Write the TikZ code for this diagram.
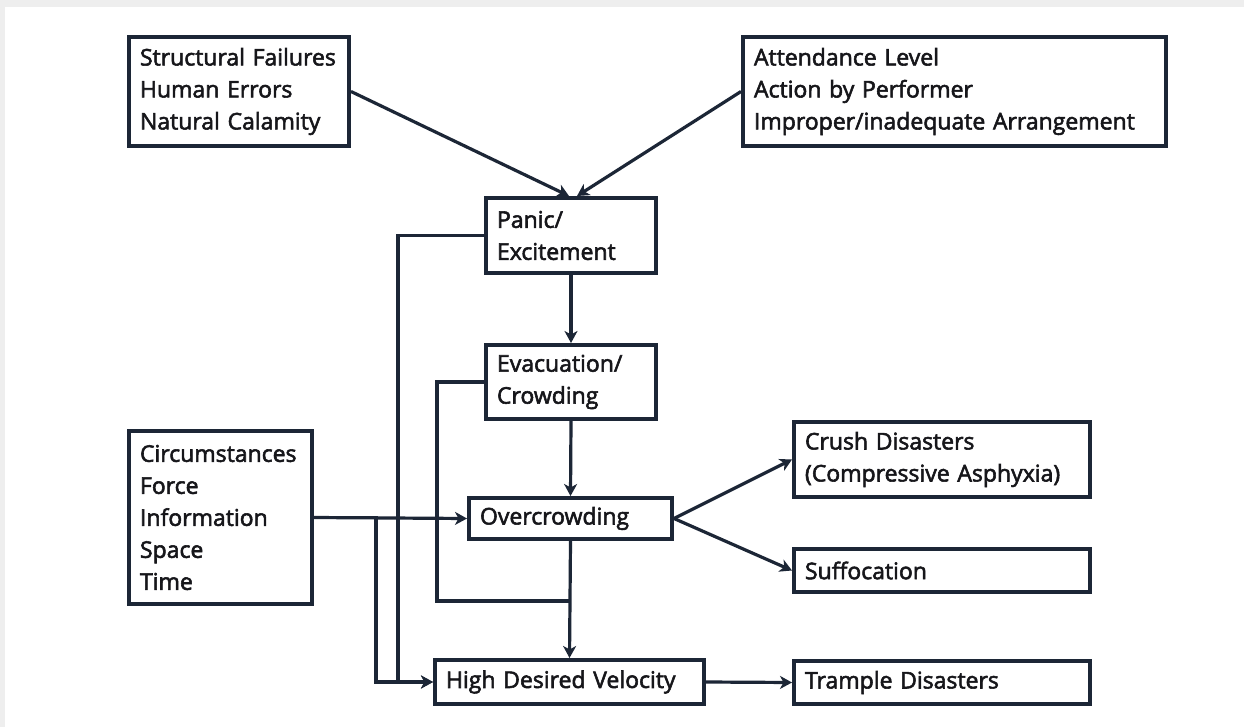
\documentclass[tikz,border=0pt]{standalone}
\usepackage{fontspec}
\newfontfamily\boxfont{Open Sans}[FakeBold=2.4]
\usetikzlibrary{arrows.meta,calc}
\definecolor{ink}{RGB}{28,38,54}
\definecolor{txt}{RGB}{22,22,26}
\definecolor{frame}{RGB}{238,238,238}
\begin{document}
\begin{tikzpicture}[x=1pt,y=-1pt,
  box/.style={draw=ink, line width=4pt, fill=white, anchor=north west,
    inner xsep=11pt, inner ysep=0pt, align=left, text=txt,
    font=\boxfont\fontsize{23}{32}\selectfont},
  link/.style={draw=ink, line width=3.2pt},
  arr/.style={link, -{Stealth[length=12pt,width=13pt,inset=3.5pt]}}]
% page: light grey edge and white sheet
\fill[frame] (0,0) rectangle (1244,727);
\fill[white] (5,7) rectangle (1244,727);
\useasboundingbox (0,0) rectangle (1244,727);
% boxes (corner, width, height)
\newcommand\mkbox[6]{\node[box, minimum width=#4, minimum height=#5, text width=#4-22pt] (#1) at (#2,#3) {#6};}
\mkbox{causeA}{127}{35}{220pt}{109pt}{Structural Failures\\Human Errors\\Natural Calamity}
\mkbox{causeB}{741}{35}{423pt}{109pt}{Attendance Level\\Action by Performer\\Improper/inadequate Arrangement}
\mkbox{panic}{484}{196}{170pt}{75pt}{Panic/\\Excitement}
\mkbox{evac}{484}{343}{170pt}{74pt}{Evacuation/\\Crowding}
\mkbox{over}{467}{496}{203pt}{41pt}{Overcrowding}
\mkbox{hdv}{433}{658}{269pt}{44pt}{High Desired Velocity}
\mkbox{circ}{127}{429}{183pt}{173pt}{Circumstances\\Force\\Information\\Space\\Time}
\mkbox{crush}{792}{420}{296pt}{75pt}{Crush Disasters\\(Compressive Asphyxia)}
\mkbox{suff}{792}{547}{296pt}{43pt}{Suffocation}
\mkbox{trample}{792}{659}{296pt}{43pt}{Trample Disasters}
% connectors
\draw[arr] (causeA.east) -- ([xshift=-2pt]panic.north);
\draw[arr] (causeB.west) -- ([xshift=6pt]panic.north);
\draw[arr] (panic.south) -- (evac.north);
\draw[arr] (evac.south) -- (over.north);
\draw[arr] (over.east) -- (crush.west);
\draw[arr] (over.east) -- (suff.west);
\draw[arr] (hdv.east) -- (trample.west);
\draw[arr] (over.south) -- (hdv.north);
\draw[arr] (circ.east) -- (over.west);
\draw[arr] (circ.east) -- ++(62,0) |- (hdv.west);
\draw[arr] (panic.west) -- ++(-86,0) |- (hdv.west);
\coordinate (merge) at ($(over.south)+(0,60)$);
\draw[link] (evac.west) -- ++(-47,0) |- (merge);
\end{tikzpicture}
\end{document}
